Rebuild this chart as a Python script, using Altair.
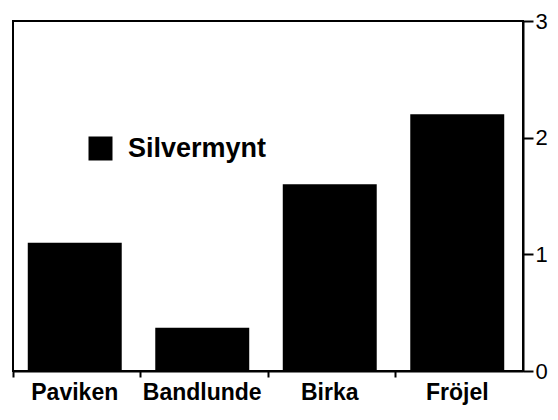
import altair as alt
import pandas as pd

sites = ["Paviken", "Bandlunde", "Birka", "Fröjel"]
silvermynt = [1.10, 0.37, 1.60, 2.20]
series = ["Silvermynt"] * 4
y_ticks = [0, 0.5, 1, 1.5, 2, 2.5, 3]

df = pd.DataFrame({"site": sites, "value": silvermynt, "series": series})

FONT = "Liberation Sans"

chart = alt.Chart(df).mark_bar(
    color="black", width=alt.RelativeBandSize(band=0.737), xOffset=-2
).encode(
    x=alt.X(
        "site:N", sort=sites, title=None,
        scale=alt.Scale(paddingInner=0, paddingOuter=0),
        axis=alt.Axis(
            bandPosition=0, labelAngle=0, labelOffset=-2, labelFont=FONT,
            labelFontSize=23, labelFontWeight="bold", labelColor="black",
            labelPadding=4, tickSize=6, tickWidth=2, tickColor="black",
            domainColor="black", domainWidth=2, labelBaseline="top",
        ),
    ),
    y=alt.Y(
        "value:Q", title=None, scale=alt.Scale(domain=[0, 3], nice=False),
        axis=alt.Axis(
            orient="right", values=y_ticks, format="d",
            labelExpr="datum.value % 1 === 0 ? format(datum.value, 'd') : ''",
            tickSize={"condition": {"test": "datum.value % 1 === 0", "value": 10}, "value": 5},
            tickWidth=2, tickColor="black", domainColor="black", domainWidth=2,
            labelFont=FONT, labelFontSize=22, labelColor="black", labelPadding=2,
            labelFlush=False, labelOverlap=False, grid=False,
        ),
    ),
    color=alt.Color(
        "series:N", scale=alt.Scale(range=["black"]),
        legend=alt.Legend(
            title=None, orient="none", legendX=74, legendY=114,
            symbolType="square", symbolSize=576, symbolStrokeWidth=0,
            labelFont=FONT, labelFontSize=27, labelFontWeight="bold",
            labelOffset=14, labelColor="black", padding=0,
        ),
    ),
).properties(
    width=510, height=350,
    autosize=alt.AutoSizeParams(type="none"),
    padding={"left": 5, "top": 13, "right": 27, "bottom": 35},
).configure_view(stroke="black", strokeWidth=2)

chart.save("out.html", embed_options={"renderer": "svg", "actions": False})
